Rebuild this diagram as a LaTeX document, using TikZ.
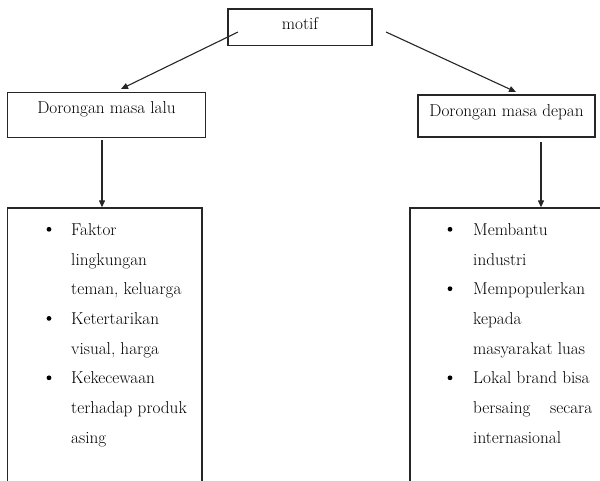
\documentclass[tikz,border=0pt]{standalone}
\usetikzlibrary{arrows.meta}
\begin{document}
\begin{tikzpicture}[x=1pt,y=-1pt,
  box/.style={draw=black!85, line width=1.3pt, rectangle, inner sep=0pt, font=\fontsize{17.2}{20}\selectfont},
  arr/.style={draw=black!85, line width=1.1pt, -{Triangle[length=7pt,width=6pt]}},
  item/.style={anchor=base west, inner sep=0pt, font=\fontsize{17.2}{20}\selectfont},
  dot/.style={circle, fill=black, inner sep=0pt, minimum size=4.8pt}
]
\useasboundingbox (0,0) rectangle (600,480);
\clip (0,0) rectangle (600,480);

% boxes
\node[box, minimum width=144pt, minimum height=36.7pt, text height=12pt, text depth=8pt] (motif) at (300,27.3) {motif};
\node[box, minimum width=198.4pt, minimum height=45pt, text height=11pt, text depth=14pt] (lalu) at (106.5,114.8) {Dorongan masa lalu};
\node[box, minimum width=177pt, minimum height=42pt, text height=12pt, text depth=11pt] (depan) at (506.5,116) {Dorongan masa depan};
\node[box, minimum width=194.5pt, minimum height=300pt] (lowL) at (104.75,358) {};
\node[box, minimum width=200pt, minimum height=300pt] (lowR) at (510,358) {};

% connectors
\coordinate (mL) at (238,32);
\coordinate (tL) at (121,89);
\draw[arr] (mL) -- (tL);
\coordinate (mR) at (386,32);
\coordinate (tR) at (516,92);
\draw[arr] (mR) -- (tR);
\coordinate (vL) at (102,140);
\draw[arr] (vL) -- (vL |- lowL.north);
\coordinate (vR) at (541,142);
\draw[arr] (vR) -- (vR |- lowR.north);

% left list
\node[dot] (bl1) at (49,229.3) {};
\node[dot] (bl2) at (49,318.4) {};
\node[dot] (bl3) at (49,377.8) {};
\node[item] (l1) at (71,235.3) {Faktor};
\node[item] (l2) at (71,265) {lingkungan};
\node[item] (l3) at (71,294.7) {teman, keluarga};
\node[item] (l4) at (71,324.4) {Ketertarikan};
\node[item] (l5) at (71,354.1) {visual, harga};
\node[item] (l6) at (71,383.8) {Kekecewaan};
\node[item] (l7) at (71,413.5) {terhadap produk};
\node[item] (l8) at (71,443.2) {asing};

% right list
\node[dot] (br1) at (450,229.3) {};
\node[dot] (br2) at (450,288.7) {};
\node[dot] (br3) at (450,377.8) {};
\node[item] (r1) at (473,235.3) {Membantu};
\node[item] (r2) at (473,265) {industri};
\node[item] (r3) at (473,294.7) {Mempopulerkan};
\node[item] (r4) at (473,324.4) {kepada};
\node[item] (r5) at (473,354.1) {masyarakat luas};
\node[item] (r6) at (473,383.8) {Lokal brand bisa};
\node[item] (r7) at (473,413.5) {\hbox to 119pt{bersaing\hfill secara}};
\node[item] (r8) at (473,443.2) {internasional};
\end{tikzpicture}
\end{document}
